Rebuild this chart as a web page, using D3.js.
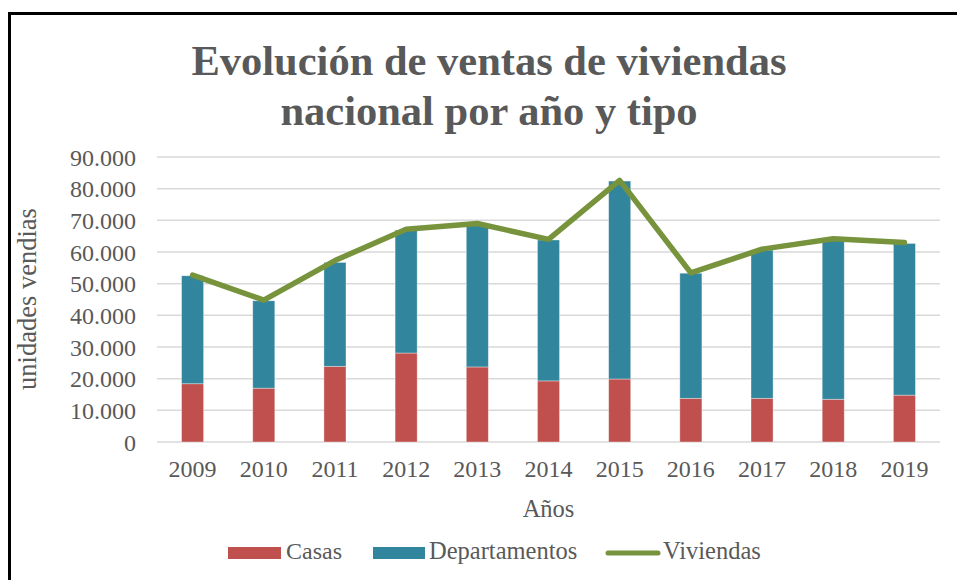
<!DOCTYPE html>
<html>
<head>
<meta charset="utf-8">
<script src="https://cdn.jsdelivr.net/npm/d3@7"></script>
<style>
  html, body { margin: 0; padding: 0; background: #fff; }
  svg { display: block; }
  text { font-family: "Liberation Serif", "Times New Roman", serif; fill: #595959; }
</style>
</head>
<body>
<svg id="chart" width="957" height="580"></svg>
<script>
const years = ["2009","2010","2011","2012","2013","2014","2015","2016","2017","2018","2019"];
const casas = [18400, 17000, 23900, 28100, 23700, 19300, 19900, 13800, 13800, 13500, 14800];
const departamentos = [34100, 27600, 32800, 38800, 44700, 44500, 62500, 39500, 46800, 50300, 47900];
const viviendas = [52700, 44800, 57300, 67200, 69000, 64000, 82600, 53400, 60900, 64200, 63000];
const yTicks = [0, 10000, 20000, 30000, 40000, 50000, 60000, 70000, 80000, 90000];
const titleLines = ["Evolución de ventas de viviendas", "nacional por año y tipo"];
const seriesNames = ["Casas", "Departamentos", "Viviendas"];

const colors = { casas: "#C0504D", dep: "#31859C", viv: "#77933C" };

const svg = d3.select("#chart");

// outer border
svg.append("rect")
  .attr("x", 9.5).attr("y", 13.5)
  .attr("width", 1000).attr("height", 1000)
  .attr("fill", "none").attr("stroke", "#000").attr("stroke-width", 3);

const plot = { left: 157, right: 940, top: 157, bottom: 442 };

const x = d3.scaleBand().domain(years)
  .range([plot.left, plot.right])
  .paddingInner(0.69).paddingOuter(0.345);

const y = d3.scaleLinear().domain([0, 90000]).range([plot.bottom, plot.top]);

// gridlines
svg.append("g").selectAll("line").data(yTicks).join("line")
  .attr("x1", plot.left).attr("x2", plot.right)
  .attr("y1", d => y(d)).attr("y2", d => y(d))
  .attr("stroke", "#D9D9D9").attr("stroke-width", 1.5);

// y axis labels
const fmt = d => d === 0 ? "0" : d3.format(",")(d).replace(/,/g, ".");
const yAxis = d3.axisLeft(y).tickValues(yTicks).tickFormat(fmt).tickSize(0).tickPadding(0);
const gy = svg.append("g").attr("transform", `translate(136,0)`).call(yAxis);
gy.select(".domain").remove();
gy.selectAll("text").attr("font-size", 24).attr("fill", "#595959")
  .attr("font-family", "Liberation Serif").attr("dy", "0.34em");

// x axis labels
const xAxis = d3.axisBottom(x).tickSize(0).tickPadding(0);
const gx = svg.append("g").attr("transform", `translate(0,477)`).call(xAxis);
gx.select(".domain").remove();
gx.selectAll("text").attr("font-size", 24).attr("fill", "#595959")
  .attr("font-family", "Liberation Serif").attr("dy", 0);

// stacked bars
const stackData = years.map((yr, i) => ({ year: yr, casas: casas[i], dep: departamentos[i] }));
const stack = d3.stack().keys(["casas", "dep"])(stackData);
svg.append("g").selectAll("g").data(stack).join("g")
  .attr("fill", d => d.key === "casas" ? colors.casas : colors.dep)
  .selectAll("rect").data(d => d).join("rect")
  .attr("x", d => x(d.data.year))
  .attr("width", x.bandwidth())
  .attr("y", d => y(d[1]))
  .attr("height", d => y(d[0]) - y(d[1]))
  .attr("stroke", "#ffffff").attr("stroke-opacity", 0.45).attr("stroke-width", 0.8);

// line
const line = d3.line()
  .x((d, i) => x(years[i]) + x.bandwidth() / 2)
  .y(d => y(d));
svg.append("path").datum(viviendas)
  .attr("d", line)
  .attr("fill", "none").attr("stroke", colors.viv)
  .attr("stroke-width", 5.5).attr("stroke-linejoin", "round").attr("stroke-linecap", "round");

// title
svg.append("g").selectAll("text").data(titleLines).join("text")
  .attr("x", 489).attr("y", (d, i) => 75 + i * 50)
  .attr("text-anchor", "middle")
  .attr("font-size", 42.5).attr("font-weight", "bold")
  .text(d => d);

// axis titles
svg.append("text")
  .attr("x", (plot.left + plot.right) / 2).attr("y", 517)
  .attr("text-anchor", "middle").attr("font-size", 24.5)
  .text("Años");

svg.append("text")
  .attr("transform", `translate(36,299) rotate(-90)`)
  .attr("text-anchor", "middle").attr("font-size", 26.5)
  .text("unidades vendias");

// legend
const lg = svg.append("g");
lg.append("rect").attr("x", 228).attr("y", 547).attr("width", 53).attr("height", 12).attr("fill", colors.casas);
lg.append("text").attr("x", 286).attr("y", 559).attr("font-size", 24).text(seriesNames[0]);
lg.append("rect").attr("x", 373).attr("y", 547).attr("width", 52).attr("height", 12).attr("fill", colors.dep);
lg.append("text").attr("x", 429).attr("y", 559).attr("font-size", 24.5).text(seriesNames[1]);
lg.append("line").attr("x1", 608).attr("x2", 658).attr("y1", 553).attr("y2", 553)
  .attr("stroke", colors.viv).attr("stroke-width", 5).attr("stroke-linecap", "round");
lg.append("text").attr("x", 663).attr("y", 559).attr("font-size", 24.5).text(seriesNames[2]);
</script>
</body>
</html>
